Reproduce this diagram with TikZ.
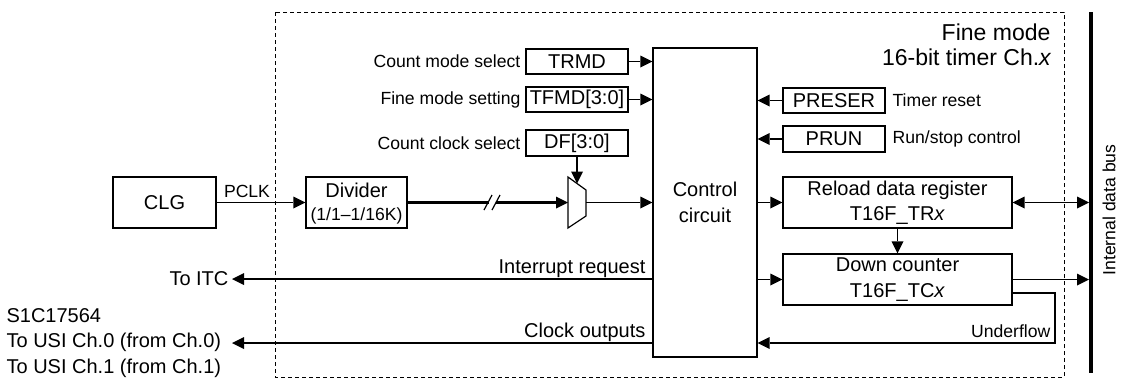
\documentclass[tikz,border=0pt]{standalone}
\usepackage{fontspec}
\setmainfont{Liberation Sans}
\usetikzlibrary{arrows.meta}
\newcommand\fmain{\fontsize{20}{25.5}\selectfont}
\newcommand\fsmall{\fontsize{17.6}{21}\selectfont}
\newcommand\ftitle{\fontsize{23}{25}\selectfont}
\tikzset{
  every picture/.style={line width=1.2pt},
  blk/.style={draw, line width=1.2pt, inner sep=0pt, font=\fmain, align=center},
  lbl/.style={inner sep=0pt, font=\fsmall},
  mlbl/.style={inner sep=0pt, font=\fmain},
  tip/.tip={Triangle[length=12pt,width=12pt,line width=0pt]},
  arr/.style={-tip},
  darr/.style={tip-tip},
}
\begin{document}
\begin{tikzpicture}[x=1pt,y=-1pt]
\useasboundingbox (0,0) rectangle (1122,381);
% dashed module frame
\draw[line width=1pt, dash pattern=on 4pt off 3pt] (275,12) rectangle (1064,377);
% internal data bus
\coordinate (bustop) at (1091,12);
\coordinate (busbot) at (1091,373);
\draw[line width=4.5pt] (bustop) -- (busbot);
\node[lbl, rotate=90] (buslbl) at (1109,210) {Internal data bus};
% title
\node[inner sep=0pt, font=\ftitle, anchor=base east] (t1) at (1051,40) {Fine mode};
\node[inner sep=0pt, font=\ftitle, anchor=base east] (t2) at (1052,65) {16-bit timer Ch.\textit{x}};
% control circuit
\node[blk, minimum width=104pt, minimum height=309pt] (ctrl) at (705,202.5) {Control\\circuit};
% register boxes left
\node[blk, minimum width=102pt, minimum height=25pt] (trmd) at (577,61.5) {TRMD};
\node[blk, minimum width=102pt, minimum height=25pt] (tfmd) at (577,99.5) {TFMD[3:0]};
\node[blk, minimum width=102pt, minimum height=26pt] (df) at (577,143) {DF[3:0]};
\node[lbl, anchor=east] (ltrmd) at (521,61.5) {Count mode select};
\node[lbl, anchor=east] (ltfmd) at (521,99.5) {Fine mode setting};
\node[lbl, anchor=east] (ldf) at (521,143) {Count clock select};
\draw[arr] (trmd.east) -- (ctrl.west |- trmd.east);
\draw[arr] (tfmd.east) -- (ctrl.west |- tfmd.east);
% register boxes right
\node[blk, minimum width=102pt, minimum height=25pt] (preser) at (834,100.5) {PRESER};
\node[blk, minimum width=102pt, minimum height=26pt] (prun) at (834,139) {PRUN};
\node[lbl, anchor=west] (lpreser) at (892,100.5) {Timer reset};
\node[lbl, anchor=west] (lprun) at (892,139) {Run/stop control};
\draw[arr] (preser.west) -- (ctrl.east |- preser.west);
\draw[arr] (prun.west) -- (ctrl.east |- prun.west);
% reload and down counter
\node[blk, minimum width=229pt, minimum height=51pt] (reload) at (897.5,202.5) {Reload data register\\T16F\_TR\textit{x}};
\node[blk, minimum width=229pt, minimum height=51pt] (down) at (897.5,279.5) {Down counter\\T16F\_TC\textit{x}};
\draw[arr] (ctrl.east |- reload.west) -- (reload.west);
\draw[arr] (ctrl.east |- down.west) -- (down.west);
\draw[arr] (reload.south) -- (down.north);
\coordinate (busr) at (1089,202.5);
\coordinate (busd) at (1089,279.5);
\draw[darr] (reload.east) -- (busr);
\draw[arr] (down.east) -- (busd);
% underflow
\coordinate (uf1) at (1055,293);
\coordinate (uf2) at (1055,343);
\draw[arr] (down.east |- uf1) -- (uf1) -- (uf2) -- (ctrl.east |- uf2);
\node[lbl, anchor=base east] (luf) at (1051,337) {Underflow};
% clock path
\node[blk, minimum width=103pt, minimum height=51pt] (clg) at (164.5,202.5) {CLG};
\node[blk, minimum width=101pt, minimum height=51pt] (div) at (356.5,202.5) {};
\node[mlbl] (divt) at (356.5,190) {Divider};
\node[lbl] (divs) at (356.5,216) {(1/1–1/16K)};
\draw[arr] (clg.east) -- (div.west);
\node[lbl, anchor=base] (pclk) at (247,197) {PCLK};
% multiplexer
\coordinate (m1) at (568,177);
\coordinate (m2) at (586,190);
\coordinate (m3) at (586,216);
\coordinate (m4) at (568,228);
\draw (m1) -- (m2) -- (m3) -- (m4) -- cycle;
\coordinate (min) at (568,202.5);
\coordinate (mout) at (586,202.5);
\coordinate (mtop) at (577,183.5);
\draw[arr] (df.south) -- (mtop);
\coordinate (g1) at (489,202.5);
\coordinate (g2) at (496,202.5);
\draw[line width=2.4pt] (div.east) -- (g1);
\draw[line width=2.4pt, arr] (g2) -- (min);
\draw[line width=1.2pt] (484,210) -- (492,195);
\draw[line width=1.2pt] (492,210) -- (500,195);
\draw[arr] (mout) -- (ctrl.west |- mout);
% outputs to the left
\node[mlbl, anchor=east] (itc) at (229,279) {To ITC};
\coordinate (itcend) at (232,279);
\draw[arr] (ctrl.west |- itcend) -- (itcend);
\node[mlbl, anchor=base east] (lint) at (646,273) {Interrupt request};
\node[mlbl, anchor=west, align=left] (usi) at (6,343) {S1C17564\\To USI Ch.0 (from Ch.0)\\To USI Ch.1 (from Ch.1)};
\coordinate (usiend) at (232,343);
\draw[arr] (ctrl.west |- usiend) -- (usiend);
\node[mlbl, anchor=base east] (lclk) at (646,337) {Clock outputs};
\end{tikzpicture}
\end{document}
